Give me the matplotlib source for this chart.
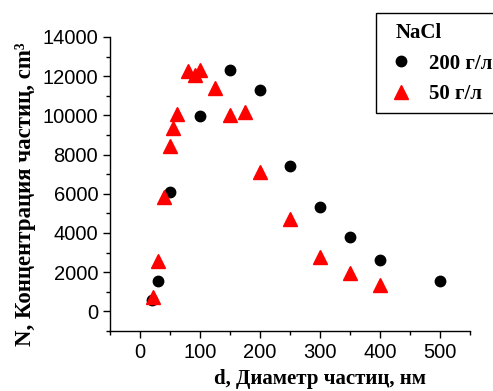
import numpy as np
import matplotlib.pyplot as plt
from matplotlib.patches import Rectangle
from matplotlib.ticker import MultipleLocator

# 200 g/l NaCl
d_200 = [20, 30, 50, 100, 150, 200, 250, 300, 350, 400, 500]
n_200 = [560, 1530, 6080, 9970, 12310, 11290, 7410, 5310, 3790, 2600, 1530]

# 50 g/l NaCl
d_50 = [22, 30, 40, 50, 55, 61, 80, 92, 100, 125, 150, 175, 200, 250, 300, 350, 400]
n_50 = [720, 2550, 5830, 8430, 9350, 10060, 12250, 12050, 12300, 11390, 10020, 10170,
        7100, 4700, 2760, 1950, 1330]

serif = 'Liberation Serif'
sans = 'Liberation Sans'

fig = plt.figure(figsize=(4.93, 3.91), dpi=100)
ax = fig.add_axes([0.2231, 0.1535, 0.7302, 0.7519])

ax.plot(d_200, n_200, 'o', color='black', ms=7.5, label='200 г/л', clip_on=False)
ax.plot(d_50, n_50, '^', color='red', ms=10, label='50 г/л', clip_on=False)

ax.set_xlim(-50, 550)
ax.set_ylim(-1000, 14000)
ax.xaxis.set_major_locator(MultipleLocator(100))
ax.xaxis.set_minor_locator(MultipleLocator(50))
ax.yaxis.set_major_locator(MultipleLocator(2000))
ax.yaxis.set_minor_locator(MultipleLocator(1000))
ax.spines['top'].set_visible(False)
ax.spines['right'].set_visible(False)
for s in ('left', 'bottom'):
    ax.spines[s].set_linewidth(1.0)
ax.tick_params(which='major', direction='out', length=5, width=1, labelsize=14.5)
ax.tick_params(which='minor', direction='out', length=3, width=1)
for lab in ax.get_xticklabels() + ax.get_yticklabels():
    lab.set_fontfamily(sans)

ax.set_xlabel('d, Диаметр частиц, нм', fontsize=15, fontweight='bold', family=serif)
ax.xaxis.set_label_coords(0.583, -0.13)
ax.set_ylabel('N, Концентрация частиц, cm³', fontsize=16.5, fontweight='bold', family=serif)
ax.yaxis.set_label_coords(-0.205, 0.466)

# legend frame drawn separately so the inner padding can differ from top/bottom
box = Rectangle((0.739, 0.7415), 0.4, 0.34, transform=ax.transAxes, clip_on=False,
                facecolor='white', edgecolor='black', linewidth=1.0, zorder=4)
ax.add_patch(box)

leg = ax.legend(loc='upper left', bbox_to_anchor=(0.764, 1.082), title='NaCl',
                prop={'family': serif, 'weight': 'bold', 'size': 15},
                frameon=False, borderaxespad=0,
                handlelength=0.5, handletextpad=1.1, borderpad=0.5, labelspacing=0.5)
leg.get_title().set_fontproperties({'family': serif, 'weight': 'bold', 'size': 15})
leg._legend_box.align = 'left'

fig.savefig('out.png', dpi=100)
